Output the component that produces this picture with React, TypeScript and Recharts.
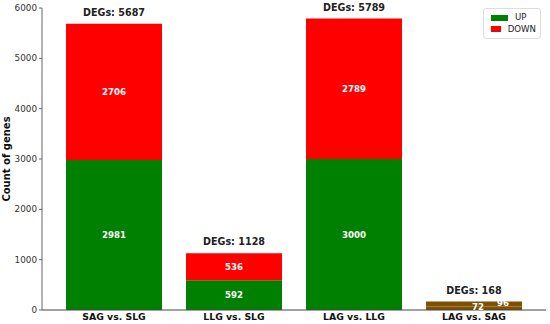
import React from 'react';
import { BarChart, Bar, XAxis, YAxis, LabelList, Cell } from 'recharts';

const categories = ['SAG vs. SLG', 'LLG vs. SLG', 'LAG vs. LLG', 'LAG vs. SAG'];
const upValues = [2981, 592, 3000, 72];
const downValues = [2706, 536, 2789, 96];
const yTicks = [0, 1000, 2000, 3000, 4000, 5000, 6000];
const legendItems = ['UP', 'DOWN'];

const GREEN = '#008000';
const RED = '#ff0000';
const BROWN = '#7f5000';
const legendColors = [GREEN, RED];

const data = categories.map((c, i) => ({
  name: c,
  up: upValues[i],
  down: downValues[i],
  total: upValues[i] + downValues[i],
}));

const isSmall = (i: number) => i === data.length - 1;

const UpLabel = (props: any) => {
  const { x, y, width, height, index, value } = props;
  const small = isSmall(index);
  const cx = x + width / 2 + (small ? 4 : 0);
  const cy = small ? y + height / 2 - 1 : y + height / 2;
  return (
    <text x={cx} y={cy} dy="0.35em" textAnchor="middle" fill="#fff" fontWeight="bold" fontSize={8.6}>
      {value}
    </text>
  );
};

const DownLabel = (props: any) => {
  const { x, y, width, height, index, value } = props;
  const small = isSmall(index);
  const cx = x + width / 2 + (small ? 29 : 0);
  const cy = small ? y + height / 2 - 1 : y + height / 2;
  return (
    <text x={cx} y={cy} dy="0.35em" textAnchor="middle" fill="#fff" fontWeight="bold" fontSize={8.6}>
      {value}
    </text>
  );
};

const TotalLabel = (props: any) => {
  const { x, y, width, index } = props;
  const d = data[index];
  return (
    <text x={x + width / 2} y={y - 8} textAnchor="middle" fill="#222" fontWeight="bold" fontSize={9.6}>
      {`DEGs: ${d.total}`}
    </text>
  );
};

const LegendBox = () => (
  <div
    style={{
      position: 'absolute',
      top: 8,
      left: 483,
      width: 58,
      boxSizing: 'border-box',
      border: '1px solid #ddd',
      borderRadius: 3,
      padding: '3px 4px 3px 7px',
      background: '#fff',
      fontFamily: 'DejaVu Sans, sans-serif',
      fontSize: 8.6,
      color: '#222',
      lineHeight: '11.5px',
    }}
  >
    {legendItems.map((label, i) => (
      <div key={label} style={{ display: 'flex', alignItems: 'center' }}>
        <span style={{ display: 'inline-block', width: 17, height: 6, background: legendColors[i], marginRight: 7 }} />
        <span>{label}</span>
      </div>
    ))}
  </div>
);

export default function App() {
  return (
    <div style={{ position: 'fixed', left: 0, top: 0, width: 550, height: 324, background: '#fff' }}>
      <BarChart
        width={550}
        height={324}
        data={data}
        margin={{ top: 8, right: 4, left: 0, bottom: 0 }}
        style={{ fontFamily: 'DejaVu Sans, sans-serif' }}
      >
        <XAxis
          dataKey="name"
          height={14}
          tickSize={0}
          tickMargin={3}
          padding={{ left: 12, right: 12 }}
          stroke="#444"
          tick={{ fill: '#111', fontSize: 9.3, fontWeight: 'bold' }}
        />
        <YAxis
          width={42}
          domain={[0, 6000]}
          ticks={yTicks}
          tickSize={3}
          stroke="#666"
          tick={{ fill: '#333', fontSize: 8.8 }}
          label={{
            value: 'Count of genes',
            angle: -90,
            position: 'insideLeft',
            offset: 0,
            dx: 6,
            style: { textAnchor: 'middle', fontWeight: 'bold', fontSize: 10, fill: '#111' },
          }}
        />
        <Bar dataKey="up" stackId="a" barSize={96} fill={GREEN} isAnimationActive={false}>
          {data.map((d, i) => (
            <Cell key={d.name} fill={isSmall(i) ? BROWN : GREEN} />
          ))}
          <LabelList dataKey="up" content={<UpLabel />} />
        </Bar>
        <Bar dataKey="down" stackId="a" barSize={96} fill={RED} isAnimationActive={false}>
          {data.map((d, i) => (
            <Cell key={d.name} fill={isSmall(i) ? BROWN : RED} />
          ))}
          <LabelList dataKey="down" content={<DownLabel />} />
          <LabelList dataKey="total" content={<TotalLabel />} />
        </Bar>
      </BarChart>
      <LegendBox />
    </div>
  );
}
